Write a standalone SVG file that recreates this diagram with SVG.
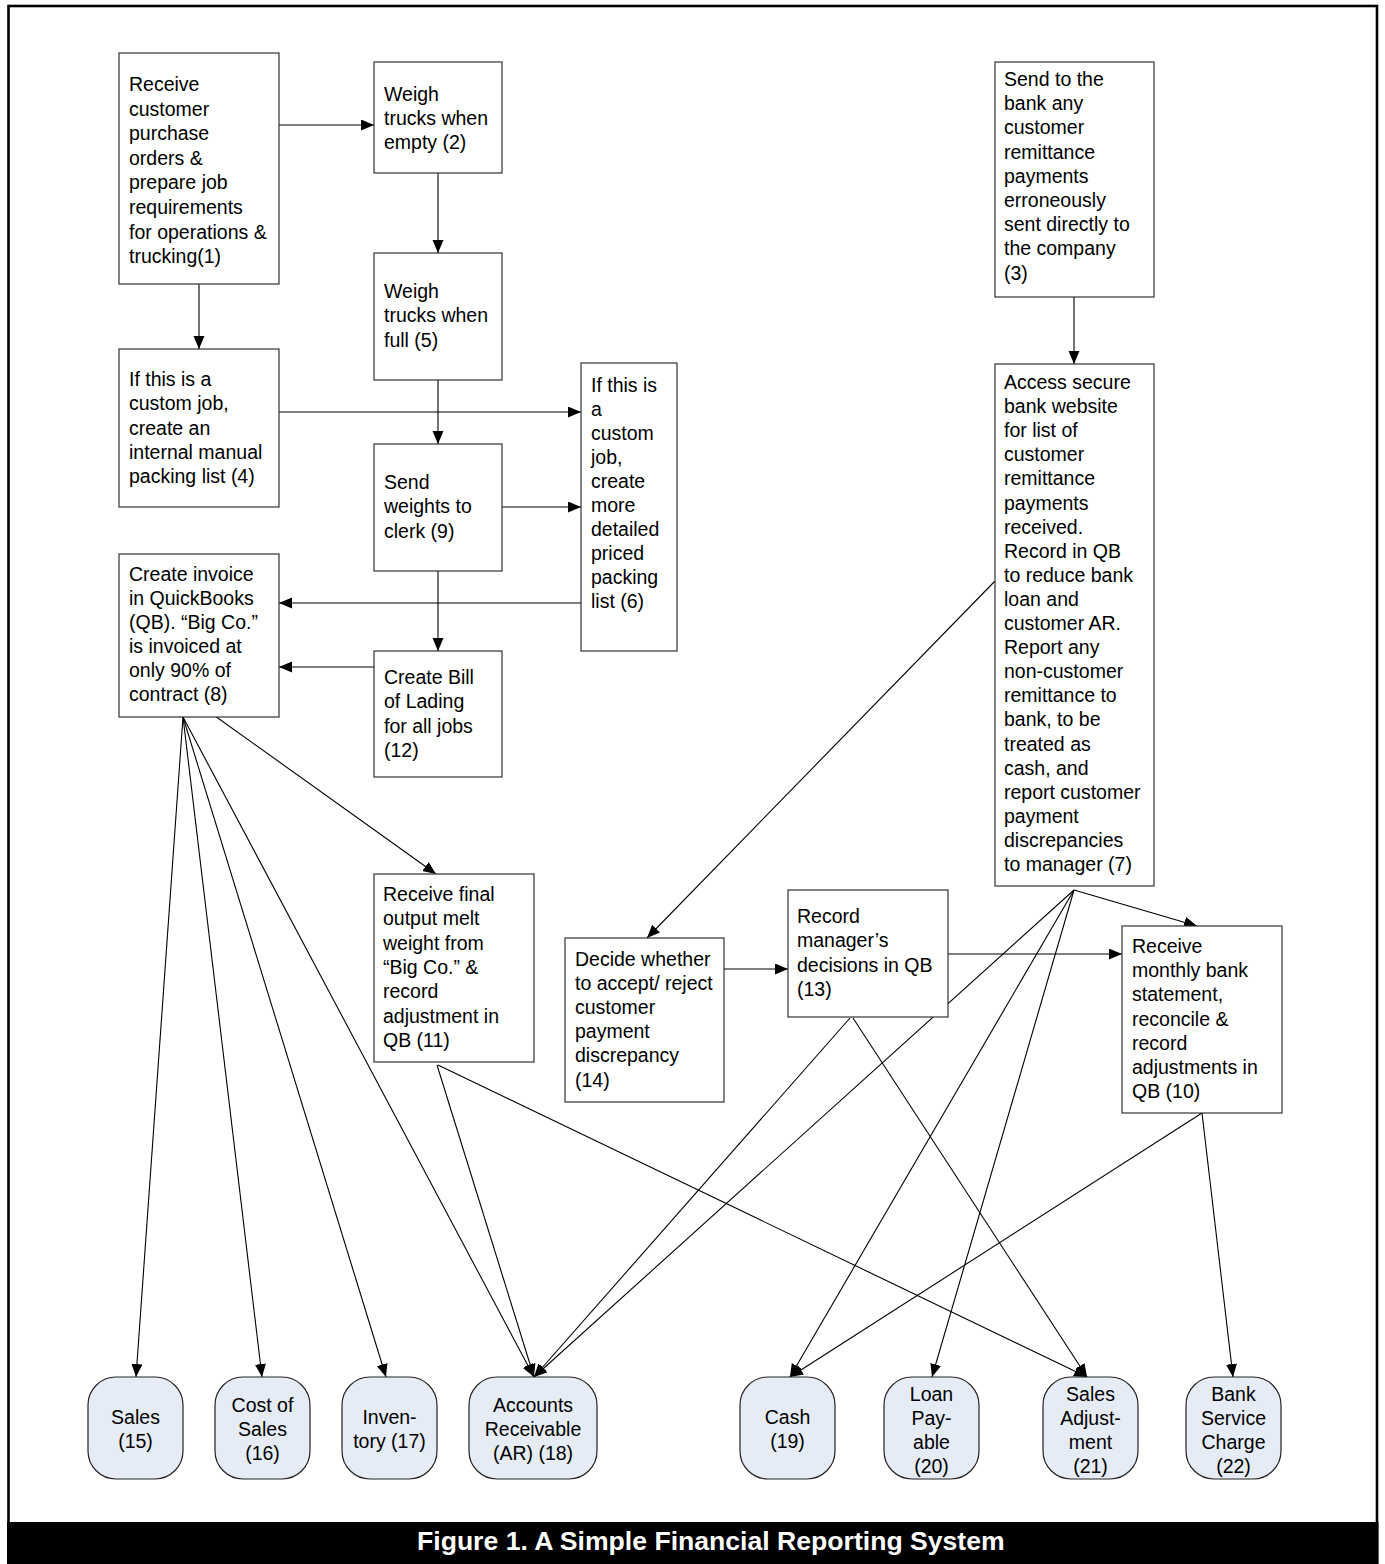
<svg xmlns="http://www.w3.org/2000/svg" width="1385" height="1564" viewBox="0 0 1385 1564">
<style>
.box{fill:#fff;stroke:#333;stroke-width:1.2}
.acc{fill:#E6ECF6;stroke:#222;stroke-width:1.2}
.t{font-family:"Liberation Sans",Arial,sans-serif;font-size:19.5px;fill:#000}
.c{text-anchor:middle}
.ln{stroke:#000;stroke-width:1.1;fill:none;marker-end:url(#ah)}
.cap{font-family:"Liberation Sans",Arial,sans-serif;font-size:26.6px;font-weight:bold;fill:#fff}
</style>
<defs>
<marker id="ah" markerUnits="userSpaceOnUse" markerWidth="14" markerHeight="12" refX="13" refY="5.5" orient="auto">
<path d="M0,0 L13,5.5 L0,11 z" fill="#000"/>
</marker>
</defs>
<rect x="0" y="0" width="1385" height="1564" fill="#fff"/>
<rect x="8.5" y="6" width="1368.5" height="1570" fill="none" stroke="#000" stroke-width="2.6"/>
<rect x="7" y="1522" width="1371.5" height="42" fill="#000"/>
<text class="cap" x="417" y="1550">Figure 1. A Simple Financial Reporting System</text>

<g id="connectors">
<line class="ln" x1="279" y1="125" x2="374" y2="125"/>
<line class="ln" x1="199" y1="284" x2="199" y2="349"/>
<line class="ln" x1="438" y1="173" x2="438" y2="253"/>
<line class="ln" x1="438" y1="380" x2="438" y2="444"/>
<line class="ln" x1="279" y1="412" x2="581" y2="412"/>
<line class="ln" x1="502" y1="507" x2="581" y2="507"/>
<line class="ln" x1="438" y1="571" x2="438" y2="651"/>
<line class="ln" x1="581" y1="603" x2="279" y2="603"/>
<line class="ln" x1="374" y1="667" x2="279" y2="667"/>
<line class="ln" x1="1074" y1="297" x2="1074" y2="364"/>
<line class="ln" x1="995" y1="581" x2="647" y2="938"/>
<line class="ln" x1="724" y1="969" x2="788" y2="969"/>
<line class="ln" x1="948" y1="954" x2="1122" y2="954"/>
<line class="ln" x1="1074" y1="890" x2="1197" y2="926"/>
<line class="ln" x1="1074" y1="890" x2="534" y2="1377"/>
<line class="ln" x1="1074" y1="890" x2="790" y2="1377"/>
<line class="ln" x1="1074" y1="890" x2="932" y2="1377"/>
<line class="ln" x1="215" y1="716" x2="436" y2="874"/>
<line class="ln" x1="183" y1="717" x2="136" y2="1377"/>
<line class="ln" x1="183" y1="717" x2="262" y2="1377"/>
<line class="ln" x1="183" y1="717" x2="386" y2="1377"/>
<line class="ln" x1="183" y1="717" x2="534" y2="1377"/>
<line class="ln" x1="437" y1="1065" x2="534" y2="1377"/>
<line class="ln" x1="438" y1="1065" x2="1087" y2="1377"/>
<line class="ln" x1="850" y1="1018" x2="534" y2="1377"/>
<line class="ln" x1="853" y1="1018" x2="1087" y2="1377"/>
<line class="ln" x1="1202" y1="1113" x2="790" y2="1377"/>
<line class="ln" x1="1202" y1="1113" x2="1233" y2="1377"/>
</g>

<g id="n1">
<rect class="box" x="119" y="53" width="160" height="231"/>
<text class="t" x="129">
<tspan x="129" y="91">Receive</tspan>
<tspan x="129" y="115.6">customer</tspan>
<tspan x="129" y="140.2">purchase</tspan>
<tspan x="129" y="164.8">orders &amp;</tspan>
<tspan x="129" y="189.4">prepare job</tspan>
<tspan x="129" y="214">requirements</tspan>
<tspan x="129" y="238.6">for operations &amp;</tspan>
<tspan x="129" y="263.2">trucking(1)</tspan>
</text>
</g>
<g id="n2">
<rect class="box" x="374" y="62" width="128" height="111"/>
<text class="t"><tspan x="384" y="100.5">Weigh</tspan><tspan x="384" y="124.8">trucks when</tspan><tspan x="384" y="149.1">empty (2)</tspan></text>
</g>
<g id="n5">
<rect class="box" x="374" y="253" width="128" height="127"/>
<text class="t"><tspan x="384" y="298">Weigh</tspan><tspan x="384" y="322.3">trucks when</tspan><tspan x="384" y="346.6">full (5)</tspan></text>
</g>
<g id="n4">
<rect class="box" x="119" y="349" width="160" height="158"/>
<text class="t"><tspan x="129" y="386">If this is a</tspan><tspan x="129" y="410.3">custom job,</tspan><tspan x="129" y="434.6">create an</tspan><tspan x="129" y="458.9">internal manual</tspan><tspan x="129" y="483.2">packing list (4)</tspan></text>
</g>
<g id="n6">
<rect class="box" x="581" y="363" width="96" height="288"/>
<text class="t"><tspan x="591" y="392">If this is</tspan><tspan x="591" y="416">a</tspan><tspan x="591" y="440">custom</tspan><tspan x="591" y="464">job,</tspan><tspan x="591" y="488">create</tspan><tspan x="591" y="512">more</tspan><tspan x="591" y="536">detailed</tspan><tspan x="591" y="560">priced</tspan><tspan x="591" y="584">packing</tspan><tspan x="591" y="608">list (6)</tspan></text>
</g>
<g id="n9">
<rect class="box" x="374" y="444" width="128" height="127"/>
<text class="t"><tspan x="384" y="489">Send</tspan><tspan x="384" y="513.3">weights to</tspan><tspan x="384" y="537.6">clerk (9)</tspan></text>
</g>
<g id="n8">
<rect class="box" x="119" y="554" width="160" height="163"/>
<text class="t"><tspan x="129" y="581">Create invoice</tspan><tspan x="129" y="605">in QuickBooks</tspan><tspan x="129" y="629">(QB). “Big Co.”</tspan><tspan x="129" y="653">is invoiced at</tspan><tspan x="129" y="677">only 90% of</tspan><tspan x="129" y="701">contract (8)</tspan></text>
</g>
<g id="n12">
<rect class="box" x="374" y="651" width="128" height="126"/>
<text class="t"><tspan x="384" y="684">Create Bill</tspan><tspan x="384" y="708.3">of Lading</tspan><tspan x="384" y="732.6">for all jobs</tspan><tspan x="384" y="756.9">(12)</tspan></text>
</g>
<g id="n3">
<rect class="box" x="995" y="62" width="159" height="235"/>
<text class="t"><tspan x="1004" y="86">Send to the</tspan><tspan x="1004" y="110.2">bank any</tspan><tspan x="1004" y="134.4">customer</tspan><tspan x="1004" y="158.6">remittance</tspan><tspan x="1004" y="182.8">payments</tspan><tspan x="1004" y="207">erroneously</tspan><tspan x="1004" y="231.2">sent directly to</tspan><tspan x="1004" y="255.4">the company</tspan><tspan x="1004" y="279.6">(3)</tspan></text>
</g>
<g id="n7">
<rect class="box" x="995" y="364" width="159" height="522"/>
<text class="t"><tspan x="1004" y="389">Access secure</tspan><tspan x="1004" y="413.1">bank website</tspan><tspan x="1004" y="437.2">for list of</tspan><tspan x="1004" y="461.3">customer</tspan><tspan x="1004" y="485.4">remittance</tspan><tspan x="1004" y="509.5">payments</tspan><tspan x="1004" y="533.6">received.</tspan><tspan x="1004" y="557.7">Record in QB</tspan><tspan x="1004" y="581.8">to reduce bank</tspan><tspan x="1004" y="605.9">loan and</tspan><tspan x="1004" y="630">customer AR.</tspan><tspan x="1004" y="654.1">Report any</tspan><tspan x="1004" y="678.2">non-customer</tspan><tspan x="1004" y="702.3">remittance to</tspan><tspan x="1004" y="726.4">bank, to be</tspan><tspan x="1004" y="750.5">treated as</tspan><tspan x="1004" y="774.6">cash, and</tspan><tspan x="1004" y="798.7">report customer</tspan><tspan x="1004" y="822.8">payment</tspan><tspan x="1004" y="846.9">discrepancies</tspan><tspan x="1004" y="871">to manager (7)</tspan></text>
</g>
<g id="n11">
<rect class="box" x="374" y="874" width="160" height="188"/>
<text class="t"><tspan x="383" y="901">Receive final</tspan><tspan x="383" y="925.3">output melt</tspan><tspan x="383" y="949.6">weight from</tspan><tspan x="383" y="973.9">“Big Co.” &amp;</tspan><tspan x="383" y="998.2">record</tspan><tspan x="383" y="1022.5">adjustment in</tspan><tspan x="383" y="1046.8">QB (11)</tspan></text>
</g>
<g id="n14">
<rect class="box" x="565" y="938" width="159" height="164"/>
<text class="t"><tspan x="575" y="966">Decide whether</tspan><tspan x="575" y="990.1">to accept/ reject</tspan><tspan x="575" y="1014.2">customer</tspan><tspan x="575" y="1038.3">payment</tspan><tspan x="575" y="1062.4">discrepancy</tspan><tspan x="575" y="1086.5">(14)</tspan></text>
</g>
<g id="n13">
<rect class="box" x="788" y="890" width="160" height="127"/>
<text class="t"><tspan x="797" y="923">Record</tspan><tspan x="797" y="947.4">manager’s</tspan><tspan x="797" y="971.8">decisions in QB</tspan><tspan x="797" y="996.2">(13)</tspan></text>
</g>
<g id="n10">
<rect class="box" x="1122" y="926" width="160" height="187"/>
<text class="t"><tspan x="1132" y="953">Receive</tspan><tspan x="1132" y="977.2">monthly bank</tspan><tspan x="1132" y="1001.4">statement,</tspan><tspan x="1132" y="1025.6">reconcile &amp;</tspan><tspan x="1132" y="1049.8">record</tspan><tspan x="1132" y="1074">adjustments in</tspan><tspan x="1132" y="1098.2">QB (10)</tspan></text>
</g>

<g id="n15">
<rect class="acc" x="88" y="1377" width="95" height="102" rx="28" ry="28"/>
<text class="t c"><tspan x="135.5" y="1424">Sales</tspan><tspan x="135.5" y="1448">(15)</tspan></text>
</g>
<g id="n16">
<rect class="acc" x="215" y="1377" width="95" height="102" rx="28" ry="28"/>
<text class="t c"><tspan x="262.5" y="1412">Cost of</tspan><tspan x="262.5" y="1436">Sales</tspan><tspan x="262.5" y="1460">(16)</tspan></text>
</g>
<g id="n17">
<rect class="acc" x="342" y="1377" width="95" height="102" rx="28" ry="28"/>
<text class="t c"><tspan x="389.5" y="1424">Inven-</tspan><tspan x="389.5" y="1448">tory (17)</tspan></text>
</g>
<g id="n18">
<rect class="acc" x="469" y="1377" width="128" height="102" rx="28" ry="28"/>
<text class="t c"><tspan x="533" y="1412">Accounts</tspan><tspan x="533" y="1436">Receivable</tspan><tspan x="533" y="1460">(AR) (18)</tspan></text>
</g>
<g id="n19">
<rect class="acc" x="740" y="1377" width="95" height="102" rx="28" ry="28"/>
<text class="t c"><tspan x="787.5" y="1424">Cash</tspan><tspan x="787.5" y="1448">(19)</tspan></text>
</g>
<g id="n20">
<rect class="acc" x="884" y="1377" width="95" height="102" rx="28" ry="28"/>
<text class="t c"><tspan x="931.5" y="1401">Loan</tspan><tspan x="931.5" y="1425">Pay-</tspan><tspan x="931.5" y="1449">able</tspan><tspan x="931.5" y="1473">(20)</tspan></text>
</g>
<g id="n21">
<rect class="acc" x="1043" y="1377" width="95" height="102" rx="28" ry="28"/>
<text class="t c"><tspan x="1090.5" y="1401">Sales</tspan><tspan x="1090.5" y="1425">Adjust-</tspan><tspan x="1090.5" y="1449">ment</tspan><tspan x="1090.5" y="1473">(21)</tspan></text>
</g>
<g id="n22">
<rect class="acc" x="1186" y="1377" width="95" height="102" rx="28" ry="28"/>
<text class="t c"><tspan x="1233.5" y="1401">Bank</tspan><tspan x="1233.5" y="1425">Service</tspan><tspan x="1233.5" y="1449">Charge</tspan><tspan x="1233.5" y="1473">(22)</tspan></text>
</g>
</svg>
